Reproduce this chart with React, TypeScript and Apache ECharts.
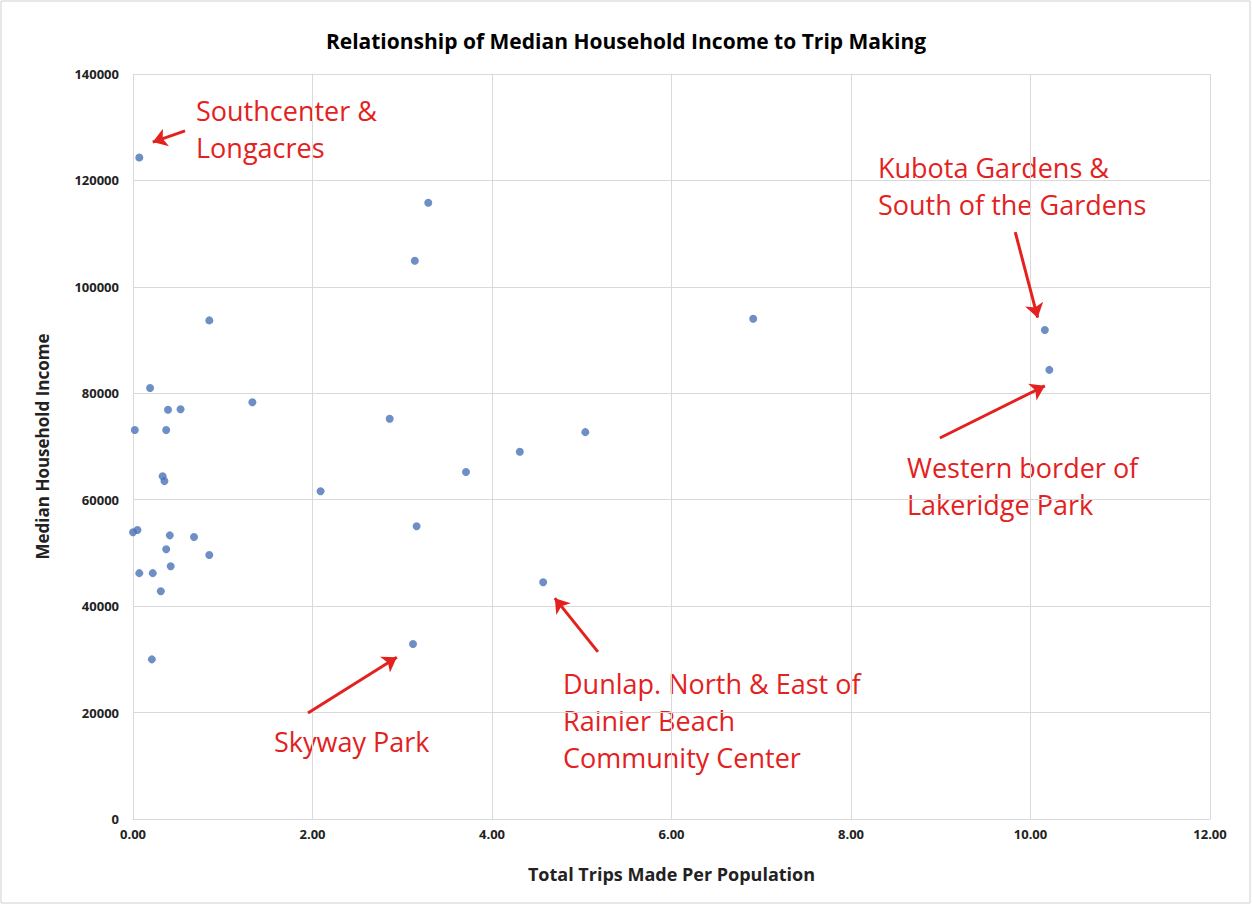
import React, { useEffect, useRef } from "react";
import * as echarts from "echarts";

const points: [number, number][] = [
  [0.07, 124300], [0.85, 93700], [0.19, 81000], [0.02, 73100], [0.39, 76900], [0.53, 77000],
  [0.37, 73100], [0.33, 64400], [0.35, 63500], [1.33, 78300], [0.0, 53900], [0.05, 54300],
  [0.41, 53300], [0.68, 53000], [0.37, 50700], [0.42, 47500], [0.07, 46200], [0.22, 46200],
  [0.85, 49600], [0.31, 42800], [0.21, 30000], [2.09, 61600], [2.86, 75200], [3.14, 104900],
  [3.29, 115800], [3.16, 55000], [3.12, 32900], [3.71, 65200], [4.31, 69000], [4.57, 44500],
  [5.04, 72700], [6.91, 94000], [10.16, 91900], [10.21, 84400],
];

const arrows: [[number, number], [number, number]][] = [
  [[0.58, 129300], [0.22, 127200]],
  [[9.83, 110300], [10.08, 94200]],
  [[8.99, 71600], [10.16, 81400]],
  [[1.95, 19900], [2.94, 30400]],
  [[5.18, 31400], [4.7, 41500]],
];

const notes: { text: string; x: number; y: number }[] = [
  { text: "Southcenter &\nLongacres", x: 196, y: 92 },
  { text: "Kubota Gardens &\nSouth of the Gardens", x: 878, y: 149 },
  { text: "Western border of\nLakeridge Park", x: 907, y: 449 },
  { text: "Skyway Park", x: 274, y: 723 },
  { text: "Dunlap. North & East of\nRainier Beach\nCommunity Center", x: 563, y: 665 },
];

const RED = "#e3211e";

export default function App() {
  const ref = useRef<HTMLDivElement>(null);
  useEffect(() => {
    document.body.style.margin = "0";
    const chart = echarts.init(ref.current!, null, { renderer: "svg" });
    const font = "'Open Sans', 'Liberation Sans', Arial, sans-serif";
    chart.setOption({
      animation: false,
      textStyle: { fontFamily: font },
      title: {
        text: "Relationship of Median Household Income to Trip Making",
        left: "center", top: 25,
        textStyle: { fontSize: 21, fontWeight: "bold", color: "#000", fontFamily: font },
      },
      grid: { left: 133, right: 42, top: 74, bottom: 86 },
      xAxis: {
        type: "value", min: 0, max: 12, interval: 2,
        name: "Total Trips Made Per Population", nameLocation: "middle", nameGap: 46,
        nameTextStyle: { fontSize: 18, fontWeight: "bold", color: "#222" },
        axisLine: { lineStyle: { color: "#d9d9d9" } }, axisTick: { show: false },
        axisLabel: { formatter: (v: number) => v.toFixed(2), fontSize: 13, fontWeight: "bold", color: "#222" },
        splitLine: { lineStyle: { color: "#d9d9d9" } },
      },
      yAxis: {
        type: "value", min: 0, max: 140000, interval: 20000,
        name: "Median Household Income", nameLocation: "middle", nameGap: 82,
        nameTextStyle: { fontSize: 17, fontWeight: "bold", color: "#222" },
        axisLine: { show: true, lineStyle: { color: "#d9d9d9" } }, axisTick: { show: false },
        axisLabel: { formatter: (v: number) => String(v), fontSize: 13, fontWeight: "bold", color: "#222", margin: 14 },
        splitLine: { lineStyle: { color: "#d9d9d9" } },
      },
      series: [
        {
          type: "scatter", data: points, symbolSize: 8,
          itemStyle: { color: "#4a72b8" },
          markLine: {
            silent: true, symbol: ["none", "arrow"], symbolSize: 14,
            label: { show: false },
            lineStyle: { color: RED, width: 3, type: "solid" },
            data: arrows.map(([a, b]) => [{ coord: a }, { coord: b }]),
          },
        },
      ],
      graphic: [
        { type: "rect", shape: { x: 1, y: 1, width: 1249, height: 902 }, style: { fill: "none", stroke: "#d0d0d0" } },
        ...notes.map((n) => ({
          type: "text", x: n.x, y: n.y,
          style: { text: n.text, fill: RED, fontSize: 27, lineHeight: 37, fontFamily: font },
        })),
      ],
    });
    return () => chart.dispose();
  }, []);
  return <div ref={ref} style={{ width: 1252, height: 905 }} />;
}
